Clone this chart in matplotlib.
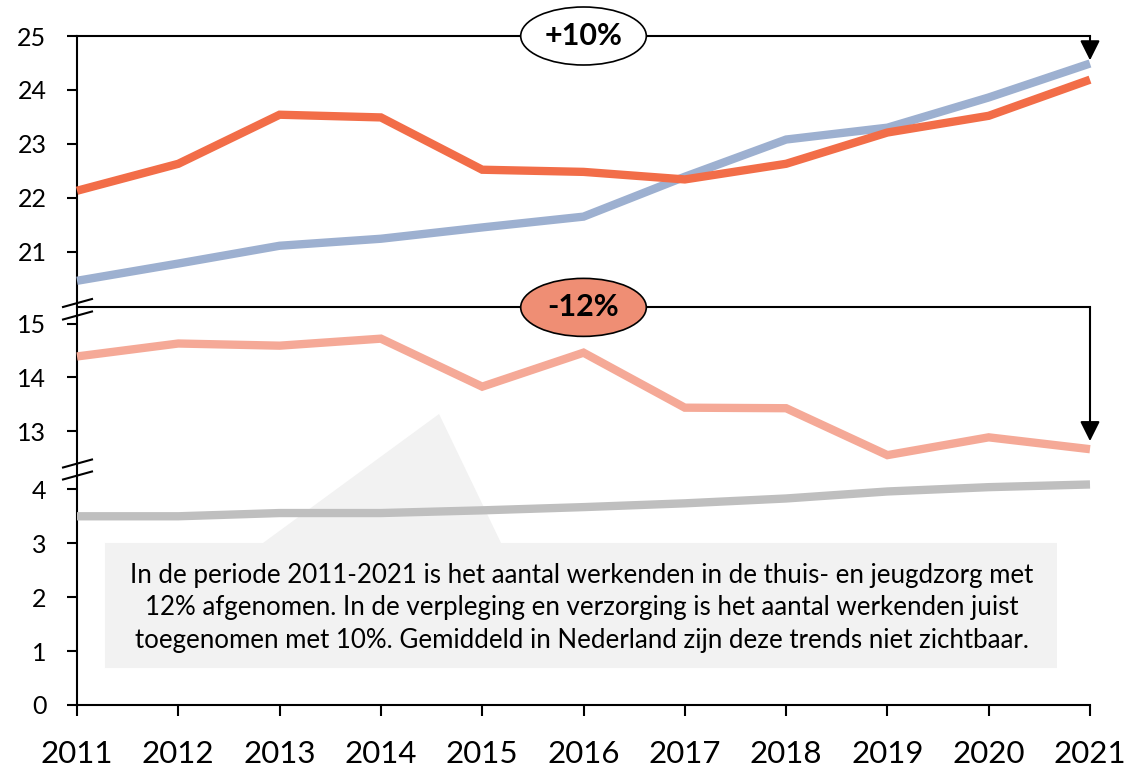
import matplotlib
matplotlib.use('Agg')
import matplotlib.pyplot as plt
import matplotlib.transforms as mtransforms
import numpy as np
from matplotlib.patches import Ellipse, Polygon
from matplotlib.ticker import FixedLocator

plt.rcParams['font.family'] = ['Lato', 'DejaVu Sans']

years = list(range(2011, 2022))
# werkenden (x 10.000)
verpleging_verzorging = [22.13, 22.63, 23.54, 23.49, 22.52, 22.48, 22.34, 22.63, 23.21, 23.52, 24.19]
zorg_totaal = [20.46, 20.78, 21.11, 21.24, 21.45, 21.65, 22.39, 23.08, 23.30, 23.86, 24.49]
thuis_jeugdzorg = [14.39, 14.63, 14.59, 14.72, 13.83, 14.46, 13.44, 13.43, 12.56, 12.89, 12.67]
overig = [3.50, 3.50, 3.56, 3.56, 3.61, 3.67, 3.74, 3.83, 3.96, 4.04, 4.09]

series = [
    (zorg_totaal, '#9DB0D0'),
    (verpleging_verzorging, '#F26D48'),
    (thuis_jeugdzorg, '#F5A997'),
    (overig, '#BFBFBF'),
]

yticks = [0, 1, 2, 3, 4, 13, 14, 15, 21, 22, 23, 24, 25]
xticklabels = [str(y) for y in years]

tekst = ("In de periode 2011-2021 is het aantal werkenden in de thuis- en jeugdzorg met\n"
         "12% afgenomen. In de verpleging en verzorging is het aantal werkenden juist\n"
         "toegenomen met 10%. Gemiddeld in Nederland zijn deze trends niet zichtbaar.")

# broken y axis: three segments glued together
B1 = 4.37     # top of lowest segment
O2 = 7.926    # offset middle segment
T2 = 15.30    # top of middle segment
O3 = 12.593   # offset top segment


def fwd(y):
    y = np.asarray(y, float)
    return np.where(y <= B1, y,
                    np.where(y <= T2, np.maximum(y - O2, B1),
                             np.maximum(y - O3, T2 - O2)))


def inv(v):
    v = np.asarray(v, float)
    return np.where(v <= B1, v, np.where(v <= T2 - O2, v + O2, v + O3))


fig = plt.figure(figsize=(11.33, 7.69), dpi=100)
ax = fig.add_axes([77 / 1133, 1 - 705 / 769, (1090 - 77) / 1133, (705 - 36) / 769])
ax.set_yscale('function', functions=(fwd, inv))
ax.set_xlim(2011, 2021)
ax.set_ylim(0, 25)

for vals, col in series:
    ax.plot(years, vals, color=col, lw=6, solid_capstyle='butt',
            solid_joinstyle='miter', clip_on=False, zorder=3)

# callout box with pointer
callout = Polygon([(0.0276, 0.2422), (0.1836, 0.2422), (0.3574, 0.4350),
                   (0.4186, 0.2422), (0.9674, 0.2422), (0.9674, 0.0553),
                   (0.0276, 0.0553)], closed=True, transform=ax.transAxes,
                  facecolor='#F2F2F2', edgecolor='none', zorder=1)
ax.add_patch(callout)
ax.text(0.4985, 0.145, tekst, transform=ax.transAxes, ha='center', va='center',
        fontsize=18.6, linespacing=1.38, color='black', zorder=2)

# brackets with arrows
for ylev, ytip in [(25, 24.55), (T2, 12.82)]:
    ax.plot([2011, 2021], [ylev, ylev], color='black', lw=1.5,
            clip_on=False, zorder=4)
    ax.annotate('', xy=(2021, ytip), xytext=(2021, ylev),
                arrowprops=dict(arrowstyle='-|>', color='black', lw=1.5,
                                mutation_scale=30, shrinkA=0, shrinkB=0),
                zorder=4, annotation_clip=False)

blend = mtransforms.blended_transform_factory(ax.transData, ax.transAxes)
for ylev, label, fc in [(25, '+10%', 'white'), (T2, '-12%', '#EF8E74')]:
    yc = ax.transAxes.inverted().transform(ax.transData.transform((2016, ylev)))[1]
    ax.add_patch(Ellipse((2016, yc), 1.24, 0.0867, transform=blend,
                         facecolor=fc, edgecolor='black', lw=1.2,
                         clip_on=False, zorder=5))
    ax.text(2016, yc, label, transform=blend, ha='center', va='center',
            fontsize=22, fontweight='bold', zorder=6)

# break marks on the y axis
for cy in [303, 315.5, 463.5, 475.5]:
    ax.plot([-0.0138, 0.0148], [(705 - cy - 4) / 669, (705 - cy + 4) / 669],
            transform=ax.transAxes, color='black', lw=1.5, clip_on=False, zorder=4)

ax.yaxis.set_major_locator(FixedLocator(yticks))
ax.set_yticklabels([str(t) for t in yticks])
ax.yaxis.set_minor_locator(FixedLocator([]))
ax.set_xticks(years)
ax.set_xticklabels(xticklabels)

for s in ['top', 'right']:
    ax.spines[s].set_visible(False)
for s in ['left', 'bottom']:
    ax.spines[s].set_linewidth(1.5)
ax.tick_params(axis='y', direction='out', length=7, width=1.5, pad=15, labelsize=18)
ax.tick_params(axis='x', direction='out', length=8, width=1.5, pad=17, labelsize=22.5)

fig.savefig('out.png', dpi=100)
